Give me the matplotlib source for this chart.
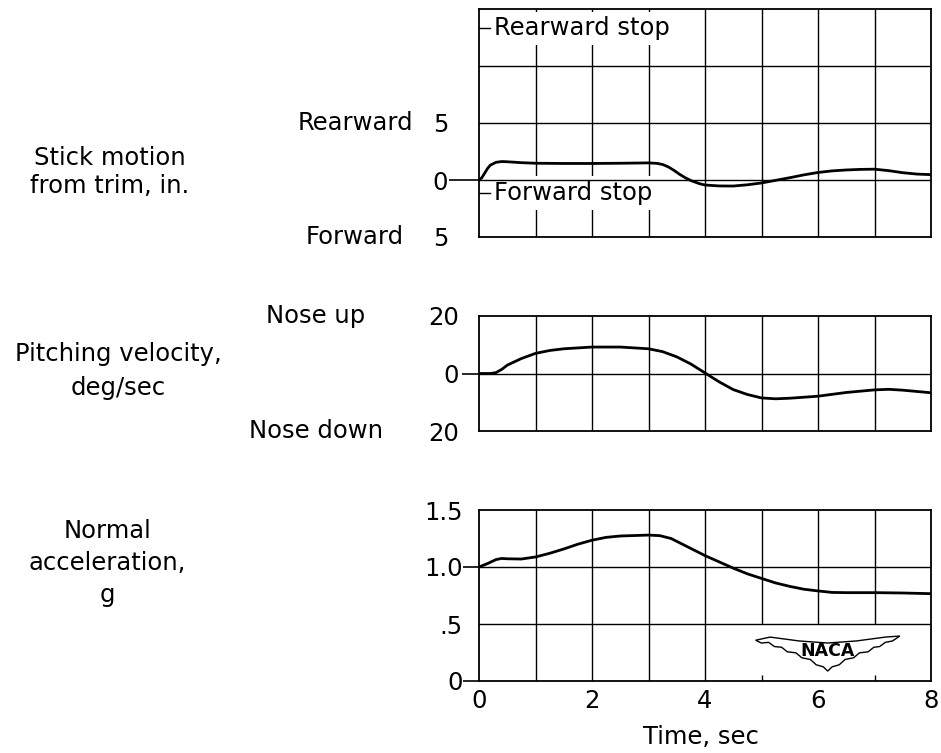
"""Resposta de manobra: comando, velocidade de arfagem e aceleracao normal."""
import matplotlib

matplotlib.use("Agg")
import matplotlib.pyplot as plt
import matplotlib.transforms as mtransforms
from matplotlib.patches import Polygon

plt.rcParams["font.family"] = ["DejaVu Sans"]

# --- dados ---
t_stick = [0, 0.05, 0.1, 0.15, 0.2, 0.3, 0.4, 0.5, 0.75, 1.0, 1.5, 2.0, 2.5, 3.0,
           3.15, 3.25, 3.35, 3.45, 3.55, 3.65, 3.75, 3.9, 4.0, 4.25, 4.5, 4.75, 5.0, 5.25,
           5.5, 5.75, 6.0, 6.25, 6.5, 6.75, 7.0, 7.25, 7.5, 7.75, 8.0]
stick = [0, 0.2, 0.6, 1.0, 1.3, 1.55, 1.62, 1.6, 1.52, 1.47, 1.45, 1.45, 1.47, 1.5,
         1.46, 1.36, 1.15, 0.85, 0.5, 0.2, -0.05, -0.32, -0.44, -0.52, -0.53, -0.42, -0.26,
         -0.03, 0.2, 0.45, 0.66, 0.8, 0.88, 0.93, 0.95, 0.82, 0.64, 0.52, 0.47]
rearward_stop = 13.3
forward_stop = -1.15

t_pitch = [0, 0.2, 0.3, 0.4, 0.5, 0.75, 1.0, 1.25, 1.5, 2.0, 2.5, 3.0, 3.25, 3.5, 3.75,
           4.0, 4.25, 4.5, 4.75, 5.0, 5.25, 5.5, 6.0, 6.5, 7.0, 7.25, 7.5, 8.0]
pitch = [0, 0, 0.3, 1.4, 2.9, 5.2, 7.0, 8.0, 8.6, 9.2, 9.2, 8.6, 7.6, 5.8, 3.3,
         0.2, -2.9, -5.6, -7.3, -8.5, -8.8, -8.6, -7.9, -6.6, -5.7, -5.5, -5.8, -6.7]

t_accel = [0, 0.15, 0.3, 0.4, 0.5, 0.75, 1.0, 1.25, 1.5, 1.75, 2.0, 2.25, 2.5, 3.0,
           3.2, 3.4, 3.6, 3.8, 4.0, 4.25, 4.5, 4.75, 5.0, 5.25, 5.5, 5.75, 6.0,
           6.25, 6.5, 7.0, 7.5, 8.0]
accel = [1.0, 1.03, 1.065, 1.075, 1.072, 1.07, 1.088, 1.12, 1.158, 1.2, 1.235, 1.26, 1.272, 1.28,
         1.275, 1.25, 1.2, 1.15, 1.10, 1.045, 0.99, 0.94, 0.90, 0.86, 0.83, 0.805, 0.79,
         0.777, 0.775, 0.775, 0.772, 0.766]

time_ticks = [0, 2, 4, 6, 8]
grid_secs = [1, 2, 3, 4, 5, 6, 7]

FS = 17.5
LW_GRID = 1.0
LW_CURVE = 2.0


def _eixo(ax, ylim, yticks, ylabels, dash_ticks, tick_len, pad):
    ax.set_xlim(0, 8)
    ax.set_ylim(*ylim)
    ax.set_yticks(yticks, ylabels)
    ax.tick_params(axis="y", length=tick_len, width=1.2, pad=pad, labelsize=FS,
                   direction="out")
    for tk, v in zip(ax.yaxis.get_major_ticks(), yticks):
        tk.tick1line.set_visible(v in dash_ticks)
    ax.set_xticks(time_ticks)
    ax.tick_params(axis="x", length=0, labelbottom=False)
    for sp in ax.spines.values():
        sp.set_linewidth(1.3)


fig = plt.figure(figsize=(9.41, 7.53), dpi=100)
left, width = 479 / 941, 452 / 941
ax1 = fig.add_axes([left, (753 - 237) / 753, width, 228 / 753])
ax2 = fig.add_axes([left, (753 - 431) / 753, width, 115 / 753])
ax3 = fig.add_axes([left, (753 - 681) / 753, width, 171 / 753])

# painel 1 - stick
_eixo(ax1, (-5, 15), [-5, 0, 5], ["5", "0", "5"], [0], 21.6, 0.7)
ax1.vlines(grid_secs, -5, 15, color="k", lw=LW_GRID, zorder=1)
for yv in [0, 5, 10]:
    ax1.axhline(yv, color="k", lw=LW_GRID, zorder=3)
ax1.plot(t_stick, stick, color="k", lw=LW_CURVE, zorder=5)
for yv, txt in [(rearward_stop, "Rearward stop"), (forward_stop, "Forward stop")]:
    ax1.plot([0, 0.2], [yv, yv], color="k", lw=1.0, zorder=4)
    ax1.text(0.26, yv, txt, fontsize=FS, va="center", ha="left", zorder=2.2,
             bbox=dict(facecolor="white", edgecolor="none", pad=3.5))
tr1 = mtransforms.blended_transform_factory(fig.transFigure, ax1.transData)
ax1.text(355 / 941, 5, "Rearward", transform=tr1, fontsize=FS, ha="center", va="center")
ax1.text(355 / 941, -5, "Forward", transform=tr1, fontsize=FS, ha="center", va="center")

# painel 2 - arfagem
_eixo(ax2, (-20, 20), [-20, 0, 20], ["20", "0", "20"], [0], 12.2, 2.2)
ax2.vlines(grid_secs, -20, 20, color="k", lw=LW_GRID, zorder=1)
ax2.axhline(0, color="k", lw=LW_GRID, zorder=3)
ax2.plot(t_pitch, pitch, color="k", lw=LW_CURVE, zorder=5)
tr2 = mtransforms.blended_transform_factory(fig.transFigure, ax2.transData)
ax2.text(316 / 941, 20, "Nose up", transform=tr2, fontsize=FS, ha="center", va="center")
ax2.text(316 / 941, -20, "Nose down", transform=tr2, fontsize=FS, ha="center", va="center")

# painel 3 - aceleracao normal
_eixo(ax3, (0, 1.5), [0, 0.5, 1.0, 1.5], ["0", ".5", "1.0", "1.5"], [0, 1.0], 11.5, 0.3)
ax3.vlines([1, 2, 3, 4], 0, 1.5, color="k", lw=LW_GRID, zorder=1)
ax3.vlines([5, 6, 7], 0.5, 1.5, color="k", lw=LW_GRID, zorder=1)
ax3.vlines([5, 7], 0, 0.05, color="k", lw=LW_GRID, zorder=1)
for yv in [0.5, 1.0]:
    ax3.axhline(yv, color="k", lw=LW_GRID, zorder=3)
ax3.plot(t_accel, accel, color="k", lw=LW_CURVE, zorder=5)
ax3.tick_params(axis="x", labelbottom=True, labelsize=FS, pad=6)
ax3.set_xticks(time_ticks, [str(v) for v in time_ticks])

# logo NACA (asas)
lx0, lx1, ly0, ly1 = 0.612, 0.931, 0.058, 0.263
wing = [(0.0, 0.88), (0.1, 0.97), (0.3, 0.86), (0.5, 0.8), (0.7, 0.86), (0.9, 0.97),
        (1.0, 1.0), (0.95, 0.86), (0.9, 0.82), (0.86, 0.7), (0.82, 0.68), (0.78, 0.55),
        (0.72, 0.52), (0.68, 0.38), (0.62, 0.33), (0.58, 0.18), (0.53, 0.12), (0.5, 0.0),
        (0.47, 0.12), (0.42, 0.18), (0.38, 0.33), (0.32, 0.38), (0.28, 0.52), (0.22, 0.55),
        (0.18, 0.68), (0.13, 0.7), (0.09, 0.82), (0.04, 0.8)]
wing_xy = [(lx0 + u * (lx1 - lx0), ly0 + v * (ly1 - ly0)) for u, v in wing]
ax3.add_patch(Polygon(wing_xy, closed=True, transform=ax3.transAxes, facecolor="white",
                      edgecolor="k", lw=1.0, zorder=4))
ax3.text((lx0 + lx1) / 2, ly0 + 0.56 * (ly1 - ly0), "NACA", transform=ax3.transAxes,
         fontsize=12.5, fontweight="bold", ha="center", va="center", zorder=6)

# rotulos
fig.text(701 / 941, 1 - 737 / 753, "Time, sec", fontsize=FS, ha="center", va="center")
fig.text(110 / 941, 1 - 172 / 753, "Stick motion\nfrom trim, in.", fontsize=FS,
         ha="center", va="center", multialignment="center", linespacing=1.2)
fig.text(118 / 941, 1 - 371 / 753, "Pitching velocity,\ndeg/sec", fontsize=FS,
         ha="center", va="center", multialignment="center", linespacing=1.5)
fig.text(107 / 941, 1 - 563 / 753, "Normal\nacceleration,\ng", fontsize=FS,
         ha="center", va="center", multialignment="center", linespacing=1.4)

fig.savefig("out.png", dpi=100, facecolor="white")
